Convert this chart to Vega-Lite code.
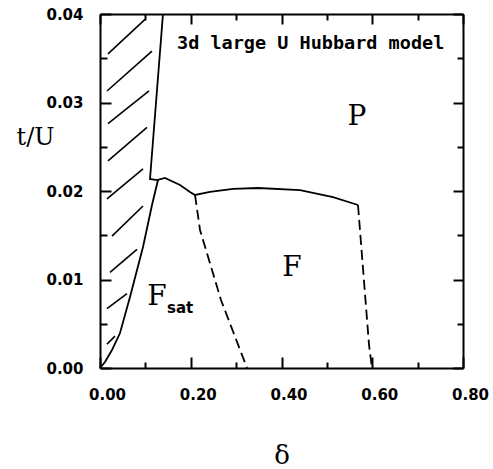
{
  "$schema": "https://vega.github.io/schema/vega-lite/v6.json",
  "width": 363,
  "height": 354,
  "autosize": {"type": "none"},
  "padding": {"left": 100, "top": 14, "right": 30, "bottom": 101},
  "background": "white",
  "config": {
    "view": {"stroke": null},
    "axis": {
      "domainColor": "black", "domainWidth": 2,
      "grid": false, "labelColor": "black", "titleColor": "black",
      "labelFont": "DejaVu Sans", "labelFontWeight": "bold", "labelFontSize": 15,
      "labelFlush": false, "labelOverlap": false
    }
  },
  "datasets": {
    "solid": [
      {"s": "a", "o": 1, "d": 0.1388, "t": 0.04},
      {"s": "a", "o": 2, "d": 0.1102, "t": 0.02136},
      {"s": "a", "o": 3, "d": 0.1256, "t": 0.02124},
      {"s": "a", "o": 4, "d": 0.1432, "t": 0.02147},
      {"s": "a", "o": 5, "d": 0.1763, "t": 0.02068},
      {"s": "a", "o": 6, "d": 0.1983, "t": 0.01989},
      {"s": "a", "o": 7, "d": 0.2094, "t": 0.01955},
      {"s": "a", "o": 8, "d": 0.2424, "t": 0.01989},
      {"s": "a", "o": 9, "d": 0.2931, "t": 0.02023},
      {"s": "a", "o": 10, "d": 0.3482, "t": 0.02034},
      {"s": "a", "o": 11, "d": 0.4408, "t": 0.02011},
      {"s": "a", "o": 12, "d": 0.5135, "t": 0.01932},
      {"s": "a", "o": 13, "d": 0.5686, "t": 0.01842},
      {"s": "b", "o": 1, "d": 0.0, "t": 0.0},
      {"s": "b", "o": 2, "d": 0.011, "t": 0.00068},
      {"s": "b", "o": 3, "d": 0.0264, "t": 0.00203},
      {"s": "b", "o": 4, "d": 0.0441, "t": 0.00395},
      {"s": "b", "o": 5, "d": 0.0661, "t": 0.00802},
      {"s": "b", "o": 6, "d": 0.0948, "t": 0.01367},
      {"s": "b", "o": 7, "d": 0.1146, "t": 0.01842},
      {"s": "b", "o": 8, "d": 0.1278, "t": 0.02124}
    ],
    "dashed": [
      {"s": "d1", "o": 1, "d": 0.2094, "t": 0.01955},
      {"s": "d1", "o": 2, "d": 0.2204, "t": 0.0156},
      {"s": "d1", "o": 3, "d": 0.2667, "t": 0.00768},
      {"s": "d1", "o": 4, "d": 0.324, "t": 0.0},
      {"s": "d2", "o": 1, "d": 0.5686, "t": 0.01842},
      {"s": "d2", "o": 2, "d": 0.5929, "t": 0.0026},
      {"s": "d2", "o": 3, "d": 0.5994, "t": 0.0}
    ],
    "hatch": [
      {"s": "h1", "o": 1, "d": 0.0176, "t": 0.0355}, {"s": "h1", "o": 2, "d": 0.0992, "t": 0.0394},
      {"s": "h2", "o": 1, "d": 0.0154, "t": 0.0313}, {"s": "h2", "o": 2, "d": 0.1146, "t": 0.0358},
      {"s": "h3", "o": 1, "d": 0.0176, "t": 0.0276}, {"s": "h3", "o": 2, "d": 0.108, "t": 0.0313},
      {"s": "h4", "o": 1, "d": 0.0176, "t": 0.0234}, {"s": "h4", "o": 2, "d": 0.1036, "t": 0.0272},
      {"s": "h5", "o": 1, "d": 0.0154, "t": 0.0191}, {"s": "h5", "o": 2, "d": 0.0948, "t": 0.0225},
      {"s": "h6", "o": 1, "d": 0.0264, "t": 0.0149}, {"s": "h6", "o": 2, "d": 0.0948, "t": 0.0183},
      {"s": "h7", "o": 1, "d": 0.022, "t": 0.0108}, {"s": "h7", "o": 2, "d": 0.0815, "t": 0.0134},
      {"s": "h8", "o": 1, "d": 0.0154, "t": 0.0067}, {"s": "h8", "o": 2, "d": 0.0595, "t": 0.0084},
      {"s": "h9", "o": 1, "d": 0.0154, "t": 0.0027}, {"s": "h9", "o": 2, "d": 0.033, "t": 0.0036}
    ],
    "phases": [
      {"label": "P", "d": 0.5664, "t": 0.02836},
      {"label": "F", "d": 0.4231, "t": 0.0113},
      {"label": "F", "d": 0.1256, "t": 0.00802}
    ],
    "sub": [{"label": "sat", "d": 0.1477, "t": 0.00678}],
    "title": [{"label": "3d large U Hubbard model", "d": 0.1697, "t": 0.03672}]
  },
  "layer": [
    {
      "data": {"name": "solid"},
      "mark": {"type": "line", "color": "black", "strokeWidth": 1.8},
      "encoding": {
        "x": {
          "field": "d", "type": "quantitative",
          "scale": {"domain": [0, 0.8], "nice": false, "zero": false},
          "axis": {
            "orient": "bottom",
            "values": [0, 0.2, 0.4, 0.6, 0.8],
            "format": ".2f",
            "ticks": false,
            "labelPadding": 19,
            "labelOffset": 7,
            "title": "δ",
            "titleFont": "DejaVu Serif", "titleFontSize": 26, "titleFontWeight": "normal",
            "titleY": 87, "titleBaseline": "middle"
          }
        },
        "y": {
          "field": "t", "type": "quantitative",
          "scale": {"domain": [0, 0.04], "nice": false, "zero": false},
          "axis": {
            "orient": "left",
            "values": [0, 0.01, 0.02, 0.03, 0.04],
            "format": ".2f",
            "ticks": false,
            "labelPadding": 17,
            "title": "t/U",
            "titleAngle": 0, "titleX": -65, "titleY": 123,
            "titleAlign": "center", "titleBaseline": "middle",
            "titleFont": "DejaVu Serif", "titleFontSize": 24, "titleFontWeight": "normal"
          }
        },
        "detail": {"field": "s"},
        "order": {"field": "o"}
      }
    },
    {
      "data": {"name": "dashed"},
      "mark": {"type": "line", "color": "black", "strokeWidth": 1.8, "strokeDash": [10, 5]},
      "encoding": {
        "x": {
          "field": "d", "type": "quantitative",
          "axis": {"orient": "top", "labels": false, "ticks": false, "title": null}
        },
        "y": {
          "field": "t", "type": "quantitative",
          "axis": {"orient": "right", "labels": false, "ticks": false, "title": null}
        },
        "detail": {"field": "s"},
        "order": {"field": "o"}
      }
    },
    {
      "data": {"name": "hatch"},
      "mark": {"type": "line", "color": "black", "strokeWidth": 1.6},
      "encoding": {
        "x": {"field": "d", "type": "quantitative",
          "axis": {"orient": "bottom", "values": [0, 0.2, 0.4, 0.6, 0.8], "domain": false, "labels": false, "title": null, "ticks": true, "tickColor": "black", "tickWidth": 2, "tickSize": 11, "offset": -11}},
        "y": {"field": "t", "type": "quantitative",
          "axis": {"orient": "left", "values": [0, 0.01, 0.02, 0.03, 0.04], "domain": false, "labels": false, "title": null, "ticks": true, "tickColor": "black", "tickWidth": 2, "tickSize": 11, "offset": -11}},
        "detail": {"field": "s"},
        "order": {"field": "o"}
      }
    },
    {
      "data": {"name": "phases"},
      "mark": {"type": "text", "font": "DejaVu Serif", "fontSize": 28, "color": "black", "align": "center", "baseline": "middle"},
      "encoding": {
        "x": {"field": "d", "type": "quantitative",
          "axis": {"orient": "bottom", "values": [0.1, 0.3, 0.5, 0.7], "domain": false, "labels": false, "title": null, "ticks": true, "tickColor": "black", "tickWidth": 2, "tickSize": 6, "offset": -6}},
        "y": {"field": "t", "type": "quantitative",
          "axis": {"orient": "left", "values": [0.005, 0.015, 0.025, 0.035], "domain": false, "labels": false, "title": null, "ticks": true, "tickColor": "black", "tickWidth": 2, "tickSize": 7, "offset": -7}},
        "text": {"field": "label"}
      }
    },
    {
      "data": {"name": "sub"},
      "mark": {"type": "text", "font": "DejaVu Sans", "fontWeight": "bold", "fontSize": 15, "color": "black", "align": "left", "baseline": "middle"},
      "encoding": {
        "x": {"field": "d", "type": "quantitative",
          "axis": {"orient": "top", "values": [0, 0.2, 0.4, 0.6, 0.8], "domain": false, "labels": false, "title": null, "ticks": true, "tickColor": "black", "tickWidth": 2, "tickSize": 10, "offset": -10}},
        "y": {"field": "t", "type": "quantitative",
          "axis": {"orient": "right", "values": [0, 0.01, 0.02, 0.03, 0.04], "domain": false, "labels": false, "title": null, "ticks": true, "tickColor": "black", "tickWidth": 2, "tickSize": 10, "offset": -10}},
        "text": {"field": "label"}
      }
    },
    {
      "data": {"name": "title"},
      "mark": {"type": "text", "font": "DejaVu Sans Mono", "fontWeight": "bold", "fontSize": 18.5, "color": "black", "align": "left", "baseline": "middle"},
      "encoding": {
        "x": {"field": "d", "type": "quantitative",
          "axis": {"orient": "top", "values": [0.1, 0.3, 0.5, 0.7], "domain": false, "labels": false, "title": null, "ticks": true, "tickColor": "black", "tickWidth": 2, "tickSize": 6, "offset": -6}},
        "y": {"field": "t", "type": "quantitative",
          "axis": {"orient": "right", "values": [0.005, 0.015, 0.025, 0.035], "domain": false, "labels": false, "title": null, "ticks": true, "tickColor": "black", "tickWidth": 2, "tickSize": 6, "offset": -6}},
        "text": {"field": "label"}
      }
    }
  ],
  "resolve": {"axis": {"x": "independent", "y": "independent"}}
}
